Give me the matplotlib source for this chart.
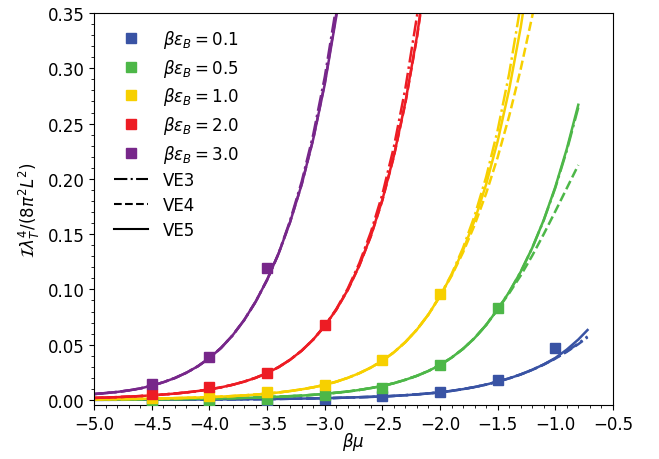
import matplotlib
matplotlib.use("Agg")
import numpy as np
import matplotlib.pyplot as plt
from matplotlib.lines import Line2D
from matplotlib.ticker import MultipleLocator


def grid(a, b):
    # beta*mu positions where the curves were read, every 0.1
    return list(np.round(np.arange(a, b + 0.001, 0.1), 2))


# measured points (square markers)
mu_pts = [-4.5, -4.0, -3.5, -3.0, -2.5, -2.0, -1.5, -1.0]
pts_01 = [-0.003, -0.003, -0.002, 0.001, 0.0035, 0.0075, 0.018, 0.047]
pts_05 = [-0.002, -0.002, 0.001, 0.0045, 0.011, 0.032, 0.083]
pts_10 = [0.002, 0.0036, 0.007, 0.0136, 0.036, 0.096]
pts_20 = [0.0054, 0.012, 0.0245, 0.068]
pts_30 = [0.0145, 0.039, 0.119]

# virial expansion curves VE3 / VE4 / VE5
x_01 = [-5.0, -4.5, -4.0, -3.5, -3.0] + grid(-2.5, -0.8) + [-0.72]
ve5_01 = [0.00018, 0.00029, 0.00049, 0.00086, 0.00158, 0.00318, 0.00372, 0.00435, 0.00509,
          0.00596, 0.00696, 0.00828, 0.00986, 0.01173, 0.01396, 0.01661, 0.0196, 0.02313,
          0.0273, 0.0322, 0.0380, 0.0456, 0.0547, 0.0633]
ve4_01 = ve5_01[:19] + [0.0320, 0.0374, 0.0436, 0.0505, 0.0567]
ve3_01 = ve5_01[:19] + [0.0321, 0.0376, 0.0440, 0.0511, 0.0575]

x_05 = grid(-5.0, -0.8)
ve5_05 = [0.00036, 0.00041, 0.00046, 0.00052, 0.00059, 0.00067, 0.00076, 0.00086, 0.00099,
          0.00112, 0.00128, 0.00147, 0.0017, 0.00195, 0.00224, 0.0026, 0.0030, 0.0035, 0.0040,
          0.0047, 0.0056, 0.0066, 0.0077, 0.0091, 0.0108, 0.0127, 0.0152, 0.0183, 0.0219,
          0.0263, 0.0316, 0.0383, 0.0463, 0.0560, 0.0678, 0.082, 0.0976, 0.1159, 0.1375,
          0.1628, 0.1925, 0.2270, 0.2670]
ve4_05 = ve5_05[:36] + [0.0965, 0.1125, 0.1305, 0.150, 0.1705, 0.1915, 0.2125]
ve3_05 = ve5_05[:36] + [0.0976, 0.1159, 0.1374, 0.1625, 0.1917, 0.2255, 0.2645]

x_10 = grid(-5.0, -1.1)
ve5_10 = [0.00062, 0.00072, 0.00082, 0.00095, 0.00109, 0.00125, 0.00145, 0.00168, 0.00195,
          0.00226, 0.00262, 0.00306, 0.00358, 0.00419, 0.00490, 0.00574, 0.00683, 0.00812,
          0.00967, 0.01150, 0.01369, 0.01656, 0.02004, 0.02425, 0.02934, 0.03550, 0.04314,
          0.05241, 0.06368, 0.07737, 0.094, 0.1128, 0.1354, 0.1624, 0.1949, 0.2339, 0.2807,
          0.3368, 0.4042, 0.485]
ve4_10 = ve5_10[:31] + [0.1122, 0.1335, 0.1582, 0.1867, 0.2194, 0.2567, 0.2991, 0.3469, 0.40]
ve3_10 = ve5_10[:31] + [0.1137, 0.1376, 0.1665, 0.2015, 0.2438, 0.2950, 0.3570, 0.432, 0.523]

x_20 = grid(-5.0, -2.1)
ve5_20 = [0.0019, 0.00223, 0.00261, 0.00306, 0.0036, 0.00423, 0.00497, 0.00584, 0.00689,
          0.00814, 0.00964, 0.01147, 0.01377, 0.01659, 0.02007, 0.02439, 0.02975, 0.03645,
          0.04465, 0.05469, 0.067, 0.0817, 0.0997, 0.1217, 0.1484, 0.1811, 0.2209, 0.2695,
          0.3288, 0.4012]
ve4_20 = ve5_20[:21] + [0.0816, 0.0995, 0.1214, 0.148, 0.1805, 0.2202, 0.2686, 0.3277, 0.40]
ve3_20 = ve5_20[:21] + [0.0822, 0.1008, 0.1237, 0.1518, 0.186, 0.229, 0.282, 0.347, 0.425]

x_30 = grid(-5.0, -2.8)
ve5_30 = [0.0054, 0.0063, 0.0073, 0.0087, 0.0105, 0.0130, 0.0161, 0.0199, 0.0247, 0.0306,
          0.0380, 0.0471, 0.0584, 0.0722, 0.0888, 0.1087, 0.1326, 0.1611, 0.1950, 0.2359,
          0.2854, 0.3468, 0.4200]
ve4_30 = ve5_30[:20] + [0.2865, 0.349, 0.422]
ve3_30 = ve5_30[:17] + [0.1625, 0.1975, 0.240, 0.292, 0.356, 0.43]

labels = [r'$\beta\varepsilon_B = 0.1$', r'$\beta\varepsilon_B = 0.5$', r'$\beta\varepsilon_B = 1.0$',
          r'$\beta\varepsilon_B = 2.0$', r'$\beta\varepsilon_B = 3.0$']
colors = ['#3953A4', '#4DB748', '#F7D000', '#ED1C24', '#77278A']

plt.rcParams['font.size'] = 12
fig = plt.figure(figsize=(6.59, 4.6), dpi=100)
ax = fig.add_axes([0.143, 0.1174, 0.787, 0.8522])

curves = [(x_01, ve3_01, ve4_01, ve5_01), (x_05, ve3_05, ve4_05, ve5_05),
          (x_10, ve3_10, ve4_10, ve5_10), (x_20, ve3_20, ve4_20, ve5_20),
          (x_30, ve3_30, ve4_30, ve5_30)]
pts = [pts_01, pts_05, pts_10, pts_20, pts_30]

for (x, v3, v4, v5), c in zip(curves, colors):
    ax.plot(x, v3, '-.', color=c, lw=1.8)
    ax.plot(x, v4, '--', color=c, lw=1.8)
    ax.plot(x, v5, '-', color=c, lw=1.8)

for p, c in zip(pts, colors):
    ax.plot(mu_pts[:len(p)], p, 's', color=c, ms=7, zorder=3)

ax.set_xlim(-5.0, -0.5)
ax.set_ylim(-0.0045, 0.35)
ax.xaxis.set_major_locator(MultipleLocator(0.5))
ax.xaxis.set_minor_locator(MultipleLocator(0.1))
ax.yaxis.set_major_locator(MultipleLocator(0.05))
ax.yaxis.set_minor_locator(MultipleLocator(0.01))
ax.set_xlabel(r'$\beta\mu$', labelpad=-2)
ax.set_ylabel(r'$\mathcal{I}\lambda_T^4/(8\pi^2L^2)$')

handles = [Line2D([], [], ls='none', marker='s', color=c, ms=7) for c in colors]
handles += [Line2D([], [], ls='-.', color='k', lw=1.5),
            Line2D([], [], ls='--', color='k', lw=1.5),
            Line2D([], [], ls='-', color='k', lw=1.5)]
ax.legend(handles, labels + ['VE3', 'VE4', 'VE5'], loc='upper left', bbox_to_anchor=(0.01, 1.0),
          frameon=False, fontsize=12, labelspacing=0.4, handletextpad=0.9)

fig.savefig('out.png', dpi=100)
